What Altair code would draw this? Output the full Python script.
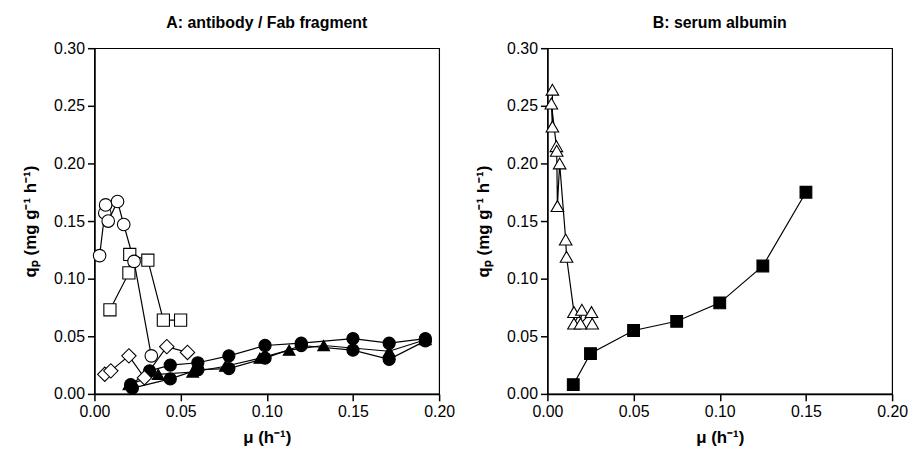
import altair as alt
import pandas as pd

# ---------------- Panel A: antibody / Fab fragment ----------------
a_circ_open_x = [0.003, 0.006, 0.0065, 0.008, 0.0134, 0.017, 0.023, 0.033]
a_circ_open_y = [0.120, 0.157, 0.164, 0.150, 0.167, 0.147, 0.115, 0.033]
a_sq_open_x = [0.009, 0.020, 0.0205, 0.031, 0.040, 0.050]
a_sq_open_y = [0.073, 0.105, 0.121, 0.116, 0.064, 0.064]
a_dia_open_x = [0.006, 0.0095, 0.020, 0.029, 0.042, 0.054]
a_dia_open_y = [0.017, 0.020, 0.033, 0.014, 0.041, 0.036]
a_tri_fill_x = [0.020, 0.037, 0.057, 0.076, 0.096, 0.113, 0.133, 0.171, 0.192]
a_tri_fill_y = [0.008, 0.017, 0.019, 0.024, 0.031, 0.038, 0.042, 0.037, 0.047]
a_circ_fill1_x = [0.021, 0.032, 0.044, 0.060, 0.078, 0.099, 0.120, 0.150, 0.171, 0.192]
a_circ_fill1_y = [0.008, 0.020, 0.025, 0.027, 0.033, 0.042, 0.044, 0.048, 0.044, 0.048]
a_circ_fill2_x = [0.022, 0.044, 0.060, 0.078, 0.099, 0.120, 0.150, 0.171, 0.192]
a_circ_fill2_y = [0.005, 0.013, 0.021, 0.022, 0.031, 0.042, 0.038, 0.030, 0.046]

# ---------------- Panel B: serum albumin ----------------
b_sq_fill_x = [0.015, 0.025, 0.05, 0.075, 0.10, 0.125, 0.15]
b_sq_fill_y = [0.008, 0.035, 0.055, 0.063, 0.079, 0.111, 0.175]
b_tri_open_x = [0.0029, 0.0029, 0.0023, 0.0052, 0.0054, 0.0058, 0.0071, 0.0106,
                0.0111, 0.0154, 0.0154, 0.020, 0.0192, 0.0256, 0.026]
b_tri_open_y = [0.264, 0.232, 0.252, 0.215, 0.211, 0.163, 0.200, 0.134,
                0.119, 0.071, 0.061, 0.073, 0.061, 0.071, 0.061]

x_ticks = [0.0, 0.05, 0.10, 0.15, 0.20]
y_ticks = [0.0, 0.05, 0.10, 0.15, 0.20, 0.25, 0.30]

FONT = "Liberation Sans, Arial, Helvetica, sans-serif"


def build(series):
    rows = []
    for name, xs, ys in series:
        for i, (x, y) in enumerate(zip(xs, ys)):
            rows.append({"series": name, "x": x, "y": y, "idx": i})
    return pd.DataFrame(rows)


a_series = [
    ("tri_fill", a_tri_fill_x, a_tri_fill_y),
    ("circ_fill1", a_circ_fill1_x, a_circ_fill1_y),
    ("circ_fill2", a_circ_fill2_x, a_circ_fill2_y),
    ("dia_open", a_dia_open_x, a_dia_open_y),
    ("sq_open", a_sq_open_x, a_sq_open_y),
    ("circ_open", a_circ_open_x, a_circ_open_y),
]
b_series = [
    ("sq_fill", b_sq_fill_x, b_sq_fill_y),
    ("tri_open", b_tri_open_x, b_tri_open_y),
]

# marker look per series: (shape, fill, size)
style = {
    "tri_fill": ("triangle-up", "black", 140),
    "circ_fill1": ("circle", "black", 150),
    "circ_fill2": ("circle", "black", 150),
    "dia_open": ("diamond", "white", 210),
    "sq_open": ("square", "white", 150),
    "circ_open": ("circle", "white", 160),
    "sq_fill": ("square", "black", 140),
    "tri_open": ("triangle-up", "white", 160),
}


def panel(series, title):
    df = build(series)
    xenc = alt.X("x:Q", scale=alt.Scale(domain=[0, 0.2], nice=False, padding=0, zero=False),
                 axis=alt.Axis(values=x_ticks, format=".2f", title="μ (h⁻¹)"))
    yenc = alt.Y("y:Q", scale=alt.Scale(domain=[0, 0.3], nice=False, padding=0, zero=False),
                 axis=alt.Axis(values=y_ticks, format=".2f", title="qₚ (mg g⁻¹ h⁻¹)"))
    base = alt.Chart(df)
    layers = [base.mark_line(color="black", strokeWidth=1.2).encode(
        x=xenc, y=yenc, detail="series:N", order="idx:Q"
    )]
    for name, _, _ in series:
        shape, fill, size = style[name]
        layers.append(
            base.transform_filter(alt.datum.series == name)
            .mark_point(shape=shape, fill=fill, filled=True, stroke="black",
                        strokeWidth=1.1, size=size, opacity=1)
            .encode(x=xenc, y=yenc)
        )
    return alt.layer(*layers).properties(
        width=347, height=348,
        title=alt.TitleParams(title, fontSize=16, fontWeight="bold", font=FONT,
                              color="black", offset=9, anchor="middle"),
    )


chart = alt.hconcat(
    panel(a_series, "A: antibody / Fab fragment"),
    panel(b_series, "B: serum albumin"),
    spacing=109, bounds="flush",
).properties(
    padding={"left": 13, "top": 5, "right": 0, "bottom": 0},
    background="white",
).configure_view(
    stroke="black", strokeWidth=1.2
).configure_axis(
    grid=False, domainColor="black", domainWidth=1.5, tickColor="black", tickWidth=1.5,
    tickSize=7, labelFontSize=16, labelFont=FONT, labelColor="black", labelPadding=3,
    labelFlush=False,
    titleFontSize=17, titleFont=FONT, titleFontWeight="bold", titleColor="black",
).configure_axisY(titlePadding=14).configure_axisX(titlePadding=10, labelPadding=3)

chart.save("out.html", embed_options={"renderer": "svg", "actions": False})
